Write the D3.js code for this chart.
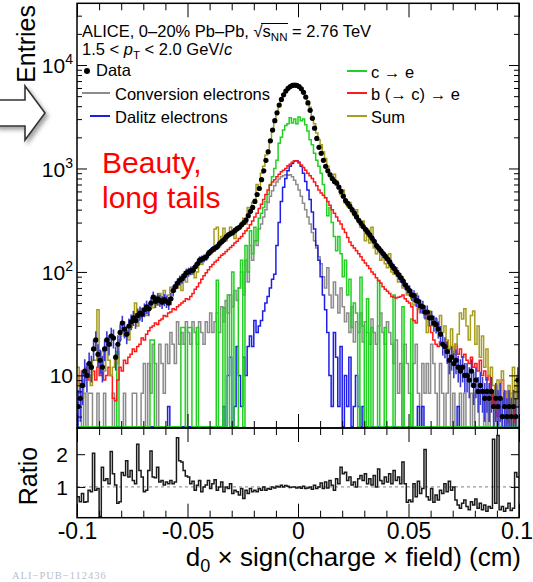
<!DOCTYPE html>
<html lang="en">
<head>
<meta charset="UTF-8">
<title>Impact parameter distribution</title>
<style>
  body { margin: 0; background: #fff; }
  svg { display: block; font-family: "Liberation Sans", Arial, Helvetica, sans-serif; }
  .tick line { stroke: #000; stroke-width: 1; }
  .hist { fill: none; stroke-width: 1.5; }
</style>
</head>
<body>
<svg width="533" height="582"></svg>
<script src="https://d3js.org/d3.v7.min.js"></script>
<script>
// 200 bins of 0.001 cm from -0.1 to 0.1
var dataCounts = [
  5,6,8,11,10,13,12,18,22,16, 14,12,18,22,20,24,23,15,20,26,
  32,28,25,30,33,36,34,38,40,39, 43,46,44,50,57,52,55,53,51,54,
  52,50,55,66,72,78,83,86,92,98, 100,103,104,112,120,130,133,136,140,150,
  158,165,170,176,188,196,205,218,228,235, 240,252,262,270,285,300,317,350,385,420,
  480,560,640,780,950,1200,1450,1850,2350,2900, 3450,4100,4650,5150,5600,5950,6200,6350,6400,6350,
  6200,5900,5450,4900,4300,3650,3050,2450,1950,1600, 1400,1200,1050,950,870,800,750,720,660,600,
  540,490,460,430,400,370,340,315,295,275, 258,242,228,212,198,180,170,160,150,142,
  133,125,115,108,100,94,88,82,75,70, 66,60,59,53,52,47,46,41,41,36,
  36,32,31,28,25,20,19,17,14,15, 13,14,12,11,12,10,10,9,11,8,
  9,7,8,7,6,7,6,7,5,6, 5,6,4,5,4,5,4,5,4,9
];
var sumHist = [
  12,7,6,9,12,10,8,14,14,43, 12,17,11,19,14,10,12,15,13,22,
  29,24,27,22,29,33,50,30,36,44, 40,38,47,52,45,58,48,62,56,66,
  50,60,71,64,75,70,84,66,90,80, 105,96,111,88,100,125,118,140,132,160,
  150,170,260,270,175,220,265,200,230,270, 245,210,260,280,300,330,290,420,380,470,
  500,700,640,900,1050,1350,1500,1900,2300,2950, 3400,4000,4700,5100,5600,5900,6100,6300,6200,6300,
  6000,5800,5500,5000,4500,3900,3200,2700,2200,1900, 1700,1450,1250,1050,900,800,880,760,640,560,
  620,460,430,470,380,350,400,300,270,310, 200,260,190,270,170,150,160,130,140,120,
  110,150,100,95,110,80,90,70,75,60, 65,55,48,62,45,40,44,36,26,42,
  38,30,35,28,38,26,30,22,18,28, 16,20,25,40,35,44,30,22,38,42,
  20,30,15,24,12,18,10,12,8,6, 9,5,11,7,4,8,3.5,12,5,10
];
var charmHist = [
  0,0,0,0,0,0,0,0,0,0, 0,0,0,0,0,0,0,0,17,0,
  0,0,0,0,0,0,0,0,0,0, 0,0,0,22,22,0,0,0,0,0,
  0,0,0,0,0,0,0,29,29,0, 29,29,0,0,29,0,0,0,0,0,
  0,0,0,83,0,0,45,0,60,0, 100,0,0,70,130,0,180,100,250,150,
  270,200,330,370,420,480,560,700,830,1000, 1200,1750,2000,2350,2600,2700,3100,2750,3000,2700,
  3150,2900,3000,2650,2300,1900,1700,1400,1200,1050, 900,700,520,350,420,300,220,160,220,150,
  90,130,60,85,29,50,40,0,89,30, 0,55,0,29,0,0,83,0,0,29,
  0,0,0,60,0,0,0,46,0,0, 0,35,0,0,0,0,0,0,0,0,
  0,0,0,0,0,0,0,0,0,0, 0,0,0,0,0,0,0,0,0,0,
  0,0,0,0,0,0,0,0,0,0, 0,0,0,0,0,0,0,0,0,0
];
var beautyHist = [
  10,8,11,10,12,9,10,11,9,12, 10,11,9,10,12,10,6,5.7,9,12,
  11,14,13,15,16,18,17,19,20,23, 22,25,27,29,30,32,31,34,35,38,
  37,40,41,44,43,46,48,50,52,55, 54,58,62,68,72,78,85,92,98,105,
  112,118,125,130,138,145,150,158,165,172, 180,190,198,210,220,235,250,265,285,310,
  340,370,410,450,500,560,620,690,740,780, 830,880,930,960,1000,1060,1100,1150,1190,1180,
  1130,1080,1020,960,900,850,800,740,680,620, 580,550,520,480,440,400,370,340,310,290,
  260,240,215,195,180,170,160,150,140,130, 122,115,108,100,95,88,82,78,72,68,
  65,62,58,57,56,57,58,60,55,52, 50,46,34,32,44,41,42,38,40,30,
  26,22,20,19,21,20,19,21,18,19, 17,20,16,18,15,16,14,13,15,12,
  13,11,14,10,11,9,10,7,5,8, 4,6,9,5,7,3.5,6,3.5,8,5
];
var conversionHist = [
  6.7,6.7,0,6.7,0,6.7,6.7,0,0,6.7, 0,0,6.7,0,0,0,6.7,0,0,0,
  0,6.7,0,0,0,6.7,6.7,0,0,6.7, 13,0,13,6.7,20,13,0,20,13,6.7,
  20,13,26,20,13,33,20,26,20,33, 26,20,33,26,20,33,26,20,33,26,
  40,26,33,40,26,46,33,53,40,60, 46,66,53,70,100,60,130,80,180,130,
  200,180,260,290,340,400,470,540,610,680, 740,790,830,850,870,860,870,830,770,700,
  620,540,460,400,340,290,240,200,170,140, 120,90,70,110,60,45,80,60,40,70,
  46,33,40,26,46,21,33,26,40,21, 33,26,20,35,26,20,30,40,26,20,
  33,26,20,13,22,6.7,13,0,20,13, 6.7,0,13,20,6.7,0,13,6.7,13,6.7,
  20,13,6.7,0,13,6.7,0,6.7,13,0, 6.7,0,0,6.7,0,6.7,0,0,6.7,0,
  6.7,6.7,0,0,6.7,0,6.7,0,0,6.7, 0,6.7,0,0,6.7,0,6.7,0,6.7,0
];
var dalitzHist = [
  0,0,0,0,0,0,0,0,0,0, 0,0,0,0,0,0,0,0,0,0,
  0,0,0,0,0,0,0,0,0,0, 0,0,0,0,0,0,0,0,0,0,
  0,5,0,0,0,0,0,0,0,0, 0,0,0,0,0,0,0,0,0,0,
  0,0,0,0,0,0,5,0,10,15, 0,5,19,10,5,15,10,19,24,19,
  34,26,30,34,42,50,58,70,85,95, 180,300,480,660,800,950,1050,1120,1180,1190,
  1150,1050,900,750,620,500,380,260,180,130, 90,60,43,26,10,5,26,15,5,19,
  0,10,5,15,0,5,10,5,0,5, 0,0,0,0,0,0,0,0,0,0,
  0,0,0,0,0,0,0,0,0,0, 0,0,0,0,5,0,5,0,0,0,
  0,0,0,0,0,0,0,0,0,0, 0,0,5,0,0,0,0,0,0,0,
  0,0,0,0,0,0,0,0,0,0, 0,0,0,0,0,0,0,0,0,0
];
var ratioVals = [
  0.7,0.55,0.8,0.53,0.55,0.9,0.85,2.03,0.9,0.95, 0.1,1.6,1.2,1.25,1.1,2.08,1.4,1.06,0.5,0.55,
  1.44,1.35,1.8,1.3,1.5,1.2,1.1,2.3,1.5,1.3, 0.85,0.9,1.5,2.1,1.3,1.28,1.6,1.15,1.2,1.06,
  1.15,1.1,1.2,1.1,1.15,2.5,1.8,1.76,1.5,1.33, 1.3,1.1,1.17,0.9,1.05,1.2,0.85,1.0,1.06,1.2,
  0.95,1.1,1.22,0.9,1.0,1.15,0.85,1.0,0.95,1.1, 0.8,0.9,0.85,0.75,0.95,0.65,0.9,0.8,0.95,0.85,
  0.9,0.85,0.95,0.9,1.0,0.9,0.95,0.93,1.0,0.97, 1.02,1.0,1.05,1.0,1.04,1.02,0.98,1.0,1.0,0.97,
  1.0,0.96,1.02,0.95,0.97,1.0,0.93,1.05,0.95,1.0, 1.12,0.95,1.15,0.97,1.2,1.05,0.9,1.25,1.1,1.6,
  1.4,1.45,1.2,1.3,1.06,1.15,1.0,1.25,1.35,1.2, 1.4,1.1,1.25,1.06,1.35,1.0,1.55,1.2,1.1,1.3,
  1.15,1.4,1.1,1.5,1.2,1.3,1.1,1.76,1.1,0.53, 0.6,0.55,1.1,0.7,1.17,0.8,0.95,2.14,0.7,0.6,
  0.95,0.53,0.75,0.6,0.9,0.8,1.1,0.85,1.17,0.9, 1.0,0.6,0.45,0.35,0.5,0.6,0.4,0.3,0.55,0.45,
  0.63,0.35,0.5,0.3,0.45,0.26,0.4,0.35,2.46,0.5, 2.57,0.3,0.4,0.26,0.35,0.5,0.28,0.35,1.44,1.3
];
var xMajor = [-0.1, -0.05, 0, 0.05, 0.1];
var xTickLabels = ["-0.1", "-0.05", "0", "0.05", "0.1"];
var yDecades = [10, 100, 1000, 10000];
var yExponents = ["", "2", "3", "4"];
var ratioTicks = [1, 2];
var ratioTickLabels = ["1", "2"];

var svg = d3.select("svg");
svg.append("rect").attr("width", 533).attr("height", 582).attr("fill", "#fff");

var x = d3.scaleLinear().domain([-0.1, 0.1]).range([77, 519]);
var y = d3.scaleLog().domain([3.1, 39500]).range([428, 3.3]);
var r = d3.scaleLinear().domain([0.06, 2.8]).range([517.7, 428]);
var floorVal = 3.18;
var nBins = dataCounts.length, binW = 0.2 / nBins;

var defs = svg.append("defs");
defs.append("clipPath").attr("id", "clipTop").append("rect")
    .attr("x", 77).attr("y", 3.3).attr("width", 442).attr("height", 424.7);
defs.append("clipPath").attr("id", "clipRatio").append("rect")
    .attr("x", 77).attr("y", 428).attr("width", 442).attr("height", 89.7);
var shadow = defs.append("filter").attr("id", "shadow").attr("x", "-30%").attr("y", "-30%").attr("width", "160%").attr("height", "160%");
shadow.append("feDropShadow").attr("dx", 2.5).attr("dy", 3).attr("stdDeviation", 2)
    .attr("flood-color", "#777").attr("flood-opacity", 0.7);

// arrow on the left
svg.append("path")
    .attr("d", "M-4,100 L25,100 L25,86 L45,113 L25,140 L25,126 L-4,126 Z")
    .attr("fill", "#fff").attr("stroke", "#333").attr("stroke-width", 1.6)
    .attr("filter", "url(#shadow)");

function stepPath(vals, scale, floor) {
  var pts = vals.map(function(v, i){ return [-0.1 + i * binW, v]; });
  pts.push([0.1, vals[vals.length - 1]]);
  return d3.line()
    .x(function(d){ return x(d[0]); })
    .y(function(d){ return scale(Math.max(d[1], floor)); })
    .curve(d3.curveStepAfter)(pts);
}

var gTop = svg.append("g").attr("clip-path", "url(#clipTop)");
var series = [
  {vals: conversionHist, color: "#8c8c8c"},
  {vals: dalitzHist, color: "#1e1ee8"},
  {vals: charmHist, color: "#22d022"},
  {vals: beautyHist, color: "#ff1a1a"},
  {vals: sumHist, color: "#a69c1e"}
];
gTop.selectAll("path.hist").data(series).enter().append("path")
    .attr("class", "hist")
    .attr("stroke", function(d){ return d.color; })
    .attr("d", function(d){ return stepPath(d.vals, y, floorVal); });

// data points with poisson errors
gTop.selectAll("line.err").data(dataCounts).enter().append("line")
    .attr("class", "err")
    .attr("x1", function(d, i){ return x(-0.1 + (i + 0.5) * binW); })
    .attr("x2", function(d, i){ return x(-0.1 + (i + 0.5) * binW); })
    .attr("y1", function(d){ return y(Math.max(d - Math.sqrt(d), floorVal)); })
    .attr("y2", function(d){ return y(d + Math.sqrt(d)); })
    .attr("stroke", "#3a3ad2").attr("stroke-width", 1.6);
gTop.selectAll("circle.pt").data(dataCounts).enter().append("circle")
    .attr("class", "pt")
    .attr("cx", function(d, i){ return x(-0.1 + (i + 0.5) * binW); })
    .attr("cy", function(d){ return y(d); })
    .attr("r", 2.6).attr("fill", "#000");

// ratio panel
var gRat = svg.append("g").attr("clip-path", "url(#clipRatio)");
gRat.append("line").attr("x1", x(-0.1)).attr("x2", x(0.1)).attr("y1", r(1)).attr("y2", r(1))
    .attr("stroke", "#999").attr("stroke-width", 1.2).attr("stroke-dasharray", "3,3");
gRat.append("path").attr("class", "hist").attr("stroke", "#1a1a1a").attr("stroke-width", 1.4)
    .attr("d", stepPath(ratioVals, r, -1));

// frames
[[3.3, 428], [428, 517.7]].forEach(function(p){
  svg.append("rect").attr("x", 77).attr("y", p[0]).attr("width", 442).attr("height", p[1] - p[0])
    .attr("fill", "none").attr("stroke", "#000").attr("stroke-width", 1.5);
});

// ticks
var xMinor = d3.range(-10, 11).map(function(k){ return k / 100; })
    .filter(function(v){ return Math.abs(Math.round(v * 100) % 5) !== 0; });
function xTickSet(yPos, axisFn, values, len) {
  var g = svg.append("g").attr("transform", "translate(0," + yPos + ")")
    .call(axisFn(x).tickValues(values).tickSize(-len).tickFormat(""));
  g.select(".domain").remove();
  g.selectAll("text").remove();
}
[[428, d3.axisBottom], [3.3, d3.axisTop], [517.7, d3.axisBottom], [428, d3.axisTop]].forEach(function(a){
  xTickSet(a[0], a[1], xMajor, 14);
  xTickSet(a[0], a[1], xMinor, 7);
});

var yMinor = [];
[1, 10, 100, 1000, 10000].forEach(function(dec){
  d3.range(2, 10).forEach(function(m){
    var v = m * dec;
    if (v > 3.1 && v < 39500) yMinor.push(v);
  });
});
function yTickSet(xPos, axisFn, scale, values, len) {
  var g = svg.append("g").attr("transform", "translate(" + xPos + ",0)")
    .call(axisFn(scale).tickValues(values).tickSize(-len).tickFormat(""));
  g.select(".domain").remove();
  g.selectAll("text").remove();
}
yTickSet(77, d3.axisLeft, y, yDecades, 10);
yTickSet(77, d3.axisLeft, y, yMinor, 5);
yTickSet(519, d3.axisRight, y, yDecades, 10);
yTickSet(519, d3.axisRight, y, yMinor, 5);
yTickSet(77, d3.axisLeft, r, ratioTicks, 8);
yTickSet(519, d3.axisRight, r, ratioTicks, 8);

// tick labels
var gyl = svg.append("g").attr("transform", "translate(77,0)")
    .call(d3.axisLeft(y).tickValues(yDecades).tickSize(0).tickPadding(4).tickFormat(function(){ return "10"; }));
gyl.select(".domain").remove();
gyl.selectAll("text").attr("font-size", 21).attr("font-family", null).attr("fill", "#000").attr("dy", "0.36em")
  .each(function(d){
    var e = yExponents[yDecades.indexOf(d)];
    if (e) d3.select(this).append("tspan").attr("font-size", 14).attr("dy", -9).text(e);
  });

var grl = svg.append("g").attr("transform", "translate(77,0)")
    .call(d3.axisLeft(r).tickValues(ratioTicks).tickSize(0).tickPadding(9)
      .tickFormat(function(d){ return ratioTickLabels[ratioTicks.indexOf(d)]; }));
grl.select(".domain").remove();
grl.selectAll("text").attr("font-size", 21).attr("font-family", null).attr("fill", "#000").attr("dy", "0.36em");

var gxl = svg.append("g").attr("transform", "translate(0,517.7)")
    .call(d3.axisBottom(x).tickValues(xMajor).tickSize(0).tickPadding(5)
      .tickFormat(function(d, i){ return xTickLabels[i]; }));
gxl.select(".domain").remove();
gxl.selectAll("text").attr("font-size", 23).attr("font-family", null).attr("fill", "#000")
  .attr("dx", function(d){ return d === 0.1 ? -2.5 : 0; });

// axis titles
svg.append("text").attr("transform", "translate(35,5) rotate(-90)")
    .attr("text-anchor", "end").attr("font-size", 25).text("Entries");
svg.append("text").attr("transform", "translate(37,476) rotate(-90)")
    .attr("text-anchor", "middle").attr("font-size", 25).text("Ratio");
var xt = svg.append("text").attr("x", 521).attr("y", 566).attr("text-anchor", "end").attr("font-size", 26);
xt.append("tspan").text("d");
xt.append("tspan").attr("font-size", 18).attr("dy", 6).text("0");
xt.append("tspan").attr("dy", -6).text(" \u00d7 sign(charge \u00d7 field) (cm)");

// header
var h1 = svg.append("text").attr("x", 82).attr("y", 37).attr("font-size", 16.5);
var h1a = "ALICE, 0\u201320% Pb\u2013Pb, \u221a";
h1.append("tspan").text(h1a);
h1.append("tspan").text("s");
h1.append("tspan").attr("font-size", 11.5).attr("dy", 4).text("NN");
h1.append("tspan").attr("dy", -4).text(" = 2.76 TeV");
var hn = h1.node();
var ovX0 = hn.getEndPositionOfChar(h1a.length - 1).x - 1.5;
var ovX1 = hn.getEndPositionOfChar(h1a.length + 2).x + 0.5;
svg.append("line").attr("x1", ovX0).attr("x2", ovX1).attr("y1", 37 - 13.5).attr("y2", 37 - 13.5)
    .attr("stroke", "#000").attr("stroke-width", 1);

var h2 = svg.append("text").attr("x", 82).attr("y", 55).attr("font-size", 16.5);
h2.append("tspan").text("1.5 < ");
h2.append("tspan").attr("font-style", "italic").text("p");
h2.append("tspan").attr("font-size", 11.5).attr("dy", 4).text("T");
h2.append("tspan").attr("dy", -4).text(" < 2.0 GeV/");
h2.append("tspan").attr("font-style", "italic").text("c");

// legends
svg.append("circle").attr("cx", 87).attr("cy", 71).attr("r", 3).attr("fill", "#000");
svg.append("text").attr("x", 96).attr("y", 76).attr("font-size", 16.5).text("Data");
var leftLeg = [
  {label: "Conversion electrons", color: "#8c8c8c", x0: 82, y: 93},
  {label: "Dalitz electrons", color: "#1e1ee8", x0: 90, y: 116}
];
leftLeg.forEach(function(d){
  svg.append("line").attr("x1", d.x0).attr("x2", 110).attr("y1", d.y).attr("y2", d.y)
    .attr("stroke", d.color).attr("stroke-width", 2);
  svg.append("text").attr("x", 115).attr("y", d.y + 6.5).attr("font-size", 16.5).text(d.label);
});
var rightLeg = [
  {label: "c \u2192 e", color: "#22d022", y: 71},
  {label: "b (\u2192 c) \u2192 e", color: "#ff1a1a", y: 93},
  {label: "Sum", color: "#a69c1e", y: 116}
];
rightLeg.forEach(function(d){
  svg.append("line").attr("x1", 347).attr("x2", 367).attr("y1", d.y).attr("y2", d.y)
    .attr("stroke", d.color).attr("stroke-width", 2);
  svg.append("text").attr("x", 371).attr("y", d.y + 6.5).attr("font-size", 16.5).text(d.label);
});

// annotation
svg.append("text").attr("x", 102).attr("y", 173).attr("font-size", 30).attr("fill", "#ff0000").text("Beauty,");
svg.append("text").attr("x", 102).attr("y", 208).attr("font-size", 30).attr("fill", "#ff0000").text("long tails");

svg.append("text").attr("x", 12).attr("y", 579).attr("font-size", 10.5)
    .attr("font-family", "Liberation Serif, serif").attr("letter-spacing", 1)
    .attr("fill", "#b8c0c8").text("ALI\u2212PUB\u2212112436");
</script>
</body>
</html>
